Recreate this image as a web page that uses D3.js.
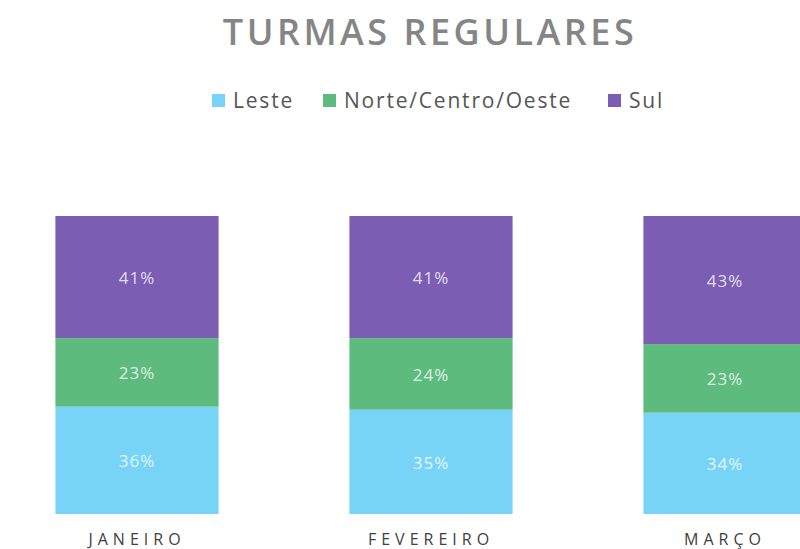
<!DOCTYPE html>
<html lang="pt">
<head>
<meta charset="UTF-8">
<title>Turmas Regulares</title>
<style>
    body { margin: 0; background: #fff; }
    svg { display: block; }
    text { font-family: 'Open Sans', sans-serif; }
</style>
</head>
<body>
<svg id="chart" width="800" height="549"></svg>
<script src="https://d3js.org/d3.v7.min.js"></script>
<script>
    // data
    const months = ["JANEIRO", "FEVEREIRO", "MARÇO"];
    const regions = ["Leste", "Norte/Centro/Oeste", "Sul"];
    const leste = [36, 35, 34];
    const norteCentroOeste = [23, 24, 23];
    const sul = [41, 41, 43];

    const colors = ["#78d4f7", "#5dbb7e", "#7b5db3"];

    const svg = d3.select("#chart");

    const rows = months.map((m, i) => ({
        month: m,
        "Leste": leste[i],
        "Norte/Centro/Oeste": norteCentroOeste[i],
        "Sul": sul[i]
    }));

    const series = d3.stack().keys(regions)(rows);

    const x = d3.scaleBand()
        .domain(months)
        .range([-10, 872])
        .paddingInner(0.445)
        .paddingOuter(0.2225);

    const y = d3.scaleLinear().domain([0, 100]).range([514, 216]);

    const color = d3.scaleOrdinal().domain(regions).range(colors);

    // title
    svg.append("text")
        .attr("x", 430)
        .attr("y", 45)
        .attr("text-anchor", "middle")
        .attr("font-size", 36)
        .attr("font-weight", 600)
        .attr("letter-spacing", 3.5)
        .attr("fill", "#858585")
        .text("TURMAS REGULARES");

    // legend
    const legendX = [212, 323, 608];
    const legend = svg.append("g");
    regions.forEach((r, i) => {
        const g = legend.append("g").attr("transform", `translate(${legendX[i]},94)`);
        g.append("rect").attr("width", 13).attr("height", 13).attr("fill", color(r));
        g.append("text")
            .attr("x", 21)
            .attr("y", 14)
            .attr("font-size", 21)
            .attr("letter-spacing", 1.8)
            .attr("fill", "#555")
            .text(r);
    });

    // bars
    const layers = svg.append("g").selectAll("g")
        .data(series)
        .join("g")
        .attr("fill", d => color(d.key));

    layers.selectAll("rect")
        .data(d => d)
        .join("rect")
        .attr("x", d => x(d.data.month))
        .attr("y", d => y(d[1]))
        .attr("width", x.bandwidth())
        .attr("height", d => y(d[0]) - y(d[1]));

    layers.selectAll("text")
        .data(d => d.map(v => ({ v, key: d.key })))
        .join("text")
        .attr("x", d => x(d.v.data.month) + x.bandwidth() / 2)
        .attr("y", d => (y(d.v[0]) + y(d.v[1])) / 2 + 7)
        .attr("text-anchor", "middle")
        .attr("font-size", 17)
        .attr("letter-spacing", 1)
        .attr("fill", "#fff")
        .attr("fill-opacity", 0.8)
        .text(d => d.v.data[d.key] + "%");

    // category labels
    const xAxis = d3.axisBottom(x).tickSize(0).tickPadding(0);
    svg.append("g")
        .attr("transform", "translate(0,534)")
        .call(xAxis)
        .call(g => g.select(".domain").remove())
        .call(g => g.selectAll("text")
            .attr("font-size", 16)
            .attr("letter-spacing", 5)
            .attr("fill", "#404040")
            .attr("font-family", "'Open Sans', sans-serif"));
</script>
</body>
</html>
